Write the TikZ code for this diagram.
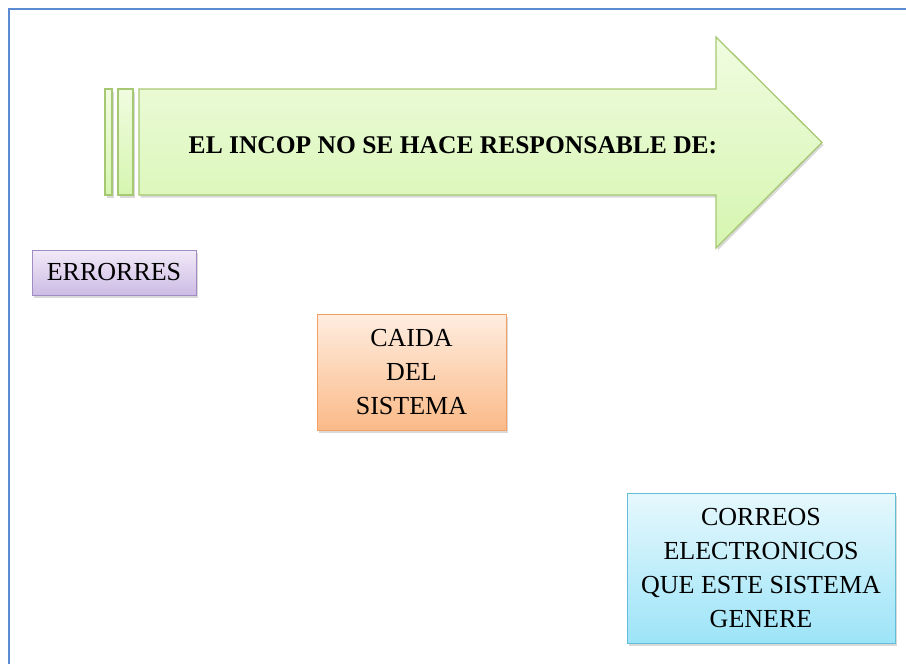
\documentclass[tikz,border=0pt]{standalone}
\usepackage{fontspec}
\setmainfont{Liberation Serif}
\usetikzlibrary{shadows}
\definecolor{frameblue}{HTML}{5B8BD0}
\definecolor{greentop}{HTML}{F0FCE0}
\definecolor{greenbot}{HTML}{D6F5B0}
\definecolor{greenline}{HTML}{A6C873}
\definecolor{purpletop}{HTML}{F1EAF8}
\definecolor{purplebot}{HTML}{CDBBE4}
\definecolor{purpleline}{HTML}{A08BC4}
\definecolor{orangetop}{HTML}{FEEDE0}
\definecolor{orangebot}{HTML}{FBBA88}
\definecolor{orangeline}{HTML}{F5A060}
\definecolor{bluetop}{HTML}{E6F8FD}
\definecolor{bluebot}{HTML}{9DE4F8}
\definecolor{blueline}{HTML}{62BED6}
\begin{document}
\begin{tikzpicture}[x=1pt,y=-1pt,
  softshadow/.style={drop shadow={opacity=0.25,shadow xshift=1.5pt,shadow yshift=-2.5pt,fill=black!60}},
  greenshape/.style={draw=greenline,line width=1.3pt,top color=greentop,bottom color=greenbot,softshadow},
  itembox/.style={rectangle,line width=1pt,align=center,inner sep=0pt,
    font=\fontsize{26}{34}\selectfont,softshadow},
  purplebox/.style={itembox,draw=purpleline,top color=purpletop,bottom color=purplebot},
  orangebox/.style={itembox,draw=orangeline,top color=orangetop,bottom color=orangebot},
  bluebox/.style={itembox,draw=blueline,top color=bluetop,bottom color=bluebot},
  titletext/.style={font=\fontsize{25.5}{30}\selectfont\bfseries,inner sep=0pt}
]
\useasboundingbox (0,0) rectangle (906,664);
% frame
\draw[frameblue,line width=2pt] (8.5,680) -- (8.5,9) -- (920,9);
% strips and arrow
\path[greenshape] (105,89) rectangle (112,195);
\path[greenshape] (118,89) rectangle (133,195);
\path[greenshape] (139,89) -- (716,89) -- (716,37) -- (822,142.5) -- (716,248) -- (716,195) -- (139,195) -- cycle;
\node[titletext] (title) at (453,145) {EL INCOP NO SE HACE RESPONSABLE DE:};
% boxes
\node[purplebox,minimum width=164pt,minimum height=45pt] (errores) at (114,272.5) {ERRORRES};
\node[orangebox,minimum width=189pt,minimum height=116pt] (caida) at (411.5,372) {CAIDA\\DEL\\SISTEMA};
\node[bluebox,minimum width=268pt,minimum height=150pt] (correos) at (761,568) {CORREOS\\ELECTRONICOS\\QUE ESTE SISTEMA\\GENERE};
\end{tikzpicture}
\end{document}
